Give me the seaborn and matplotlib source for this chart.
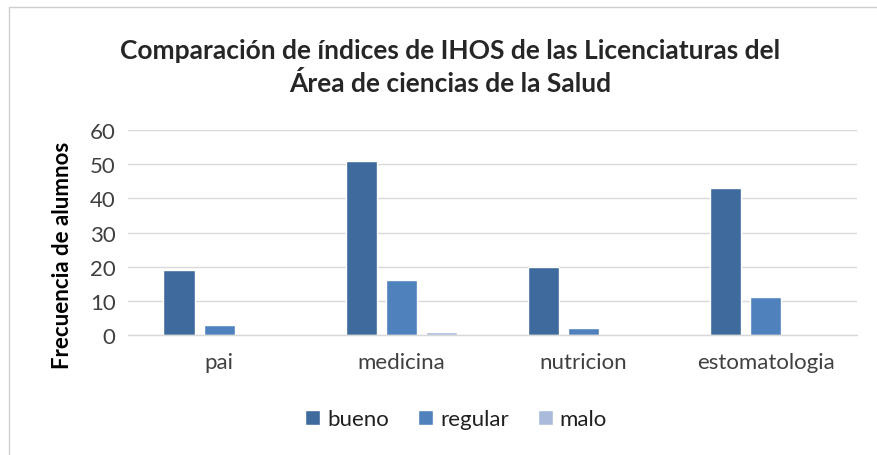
import pandas as pd
import seaborn as sns
import matplotlib.pyplot as plt
from matplotlib.lines import Line2D

# Chart data
carreras = ['pai', 'medicina', 'nutricion', 'estomatologia']
bueno = [19, 51, 20, 43]
regular = [3, 16, 2, 11]
malo = [0, 1, 0, 0]
series = ['bueno', 'regular', 'malo']
colores = ['#3E6A9E', '#4F81BD', '#A9BADB']

df = pd.DataFrame({
    'carrera': carreras * 3,
    'valor': bueno + regular + malo,
    'serie': [s for s in series for _ in carreras],
})

sns.set_style('white')
plt.rcParams['font.family'] = ['Lato', 'DejaVu Sans']

fig = plt.figure(figsize=(8.77, 4.56), dpi=100)
ax = fig.add_axes([0.146, 0.263, 0.831, 0.4497])

sns.barplot(data=df, x='carrera', y='valor', hue='serie', palette=colores,
            saturation=1, width=0.66, gap=0.22, ax=ax, legend=True)

ax.set_ylim(0, 60)
ax.set_yticks(range(0, 61, 10))
ax.yaxis.grid(True, color='#D9D9D9', linewidth=1)
ax.set_axisbelow(True)
for s in ['top', 'right', 'left']:
    ax.spines[s].set_visible(False)
ax.spines['bottom'].set_color('#D9D9D9')
ax.spines['bottom'].set_linewidth(1)
ax.tick_params(axis='both', length=0, labelsize=16, colors='#404040')
ax.tick_params(axis='x', pad=12)
ax.tick_params(axis='y', pad=9)
ax.set_xlabel('')
ax.set_ylabel('Frecuencia de alumnos', fontsize=16, fontweight='bold', color='black')
ax.yaxis.set_label_coords(-0.076, 0.395)

ax.legend(loc='center', bbox_to_anchor=(0.45, -0.41), ncol=3, frameon=False,
          fontsize=16, handlelength=0.7, handleheight=0.7, handletextpad=0.3,
          columnspacing=1.3, labelcolor='#202020')

fig.text(0.513, 0.852, 'Comparación de índices de IHOS de las Licenciaturas del\nÁrea de ciencias de la Salud',
         ha='center', va='center', fontsize=19, fontweight='bold', linespacing=1.35)

# outer chart frame (left and top visible)
fig.add_artist(Line2D([9 / 877, 9 / 877], [0, 1 - 8 / 456], transform=fig.transFigure, color='#D0D0D0', linewidth=1))
fig.add_artist(Line2D([9 / 877, 1], [1 - 8 / 456, 1 - 8 / 456], transform=fig.transFigure, color='#D0D0D0', linewidth=1))

fig.savefig('out.png', dpi=100)
